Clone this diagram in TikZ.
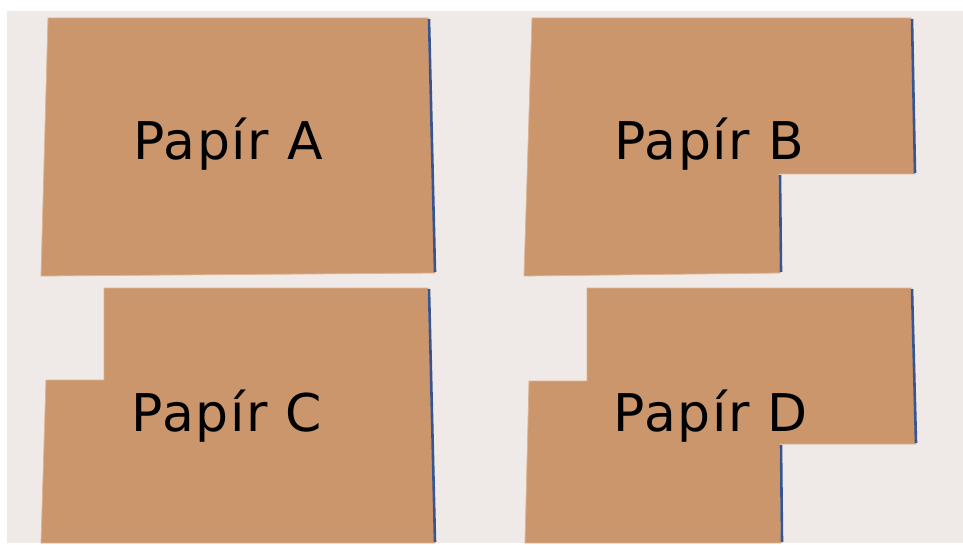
\documentclass[tikz,border=0pt]{standalone}
\usepackage{fontspec}
\newfontfamily\labelfont[LetterSpace=3]{DejaVu Sans}
\definecolor{bgc}{RGB}{239,234,232}
\definecolor{paper}{RGB}{203,150,107}
\definecolor{paperedge}{RGB}{222,180,145}
\definecolor{edgeblue}{RGB}{55,85,145}
\tikzset{
  sheet/.style={fill=paper, draw=paperedge, line width=0.8pt, line join=miter},
  blueedge/.style={draw=edgeblue, line width=2.6pt},
  lbl/.style={anchor=base, font=\labelfont\fontsize{52}{62}\selectfont, text=black, inner sep=0pt}
}
\begin{document}
\begin{tikzpicture}[x=1pt,y=-1pt]
\useasboundingbox (0,0) rectangle (963,545);
\fill[white] (0,0) rectangle (963,545);
\fill[bgc] (7,11) rectangle (963,543);
% Paper A
\path[sheet] (48,18) -- (428,18) -- (435,273) -- (41,276) -- cycle;
\draw[blueedge] (429,19) -- (435,272);
% Paper B
\path[sheet] (532,18) -- (911,18) -- (915,174) -- (779,174) -- (780,273) -- (524,276) -- cycle;
\draw[blueedge] (912,19) -- (915,173);
\draw[blueedge] (780,175) -- (781,272);
% Paper C
\path[sheet] (104,288) -- (428,288) -- (435,543) -- (41,543) -- (46,380) -- (104,380) -- cycle;
\draw[blueedge] (429,289) -- (435,542);
% Paper D
\path[sheet] (587,288) -- (911,288) -- (916,444) -- (780,444) -- (781,543) -- (525,543) -- (529,381) -- (587,381) -- cycle;
\draw[blueedge] (912,289) -- (916,443);
\draw[blueedge] (781,445) -- (782,542);
% Labels
\node[lbl] (la) at (228,160) {Papír A};
\node[lbl] (lb) at (709,160) {Papír B};
\node[lbl] (lc) at (227,431) {Papír C};
\node[lbl] (ld) at (711,431) {Papír D};
\end{tikzpicture}
\end{document}
